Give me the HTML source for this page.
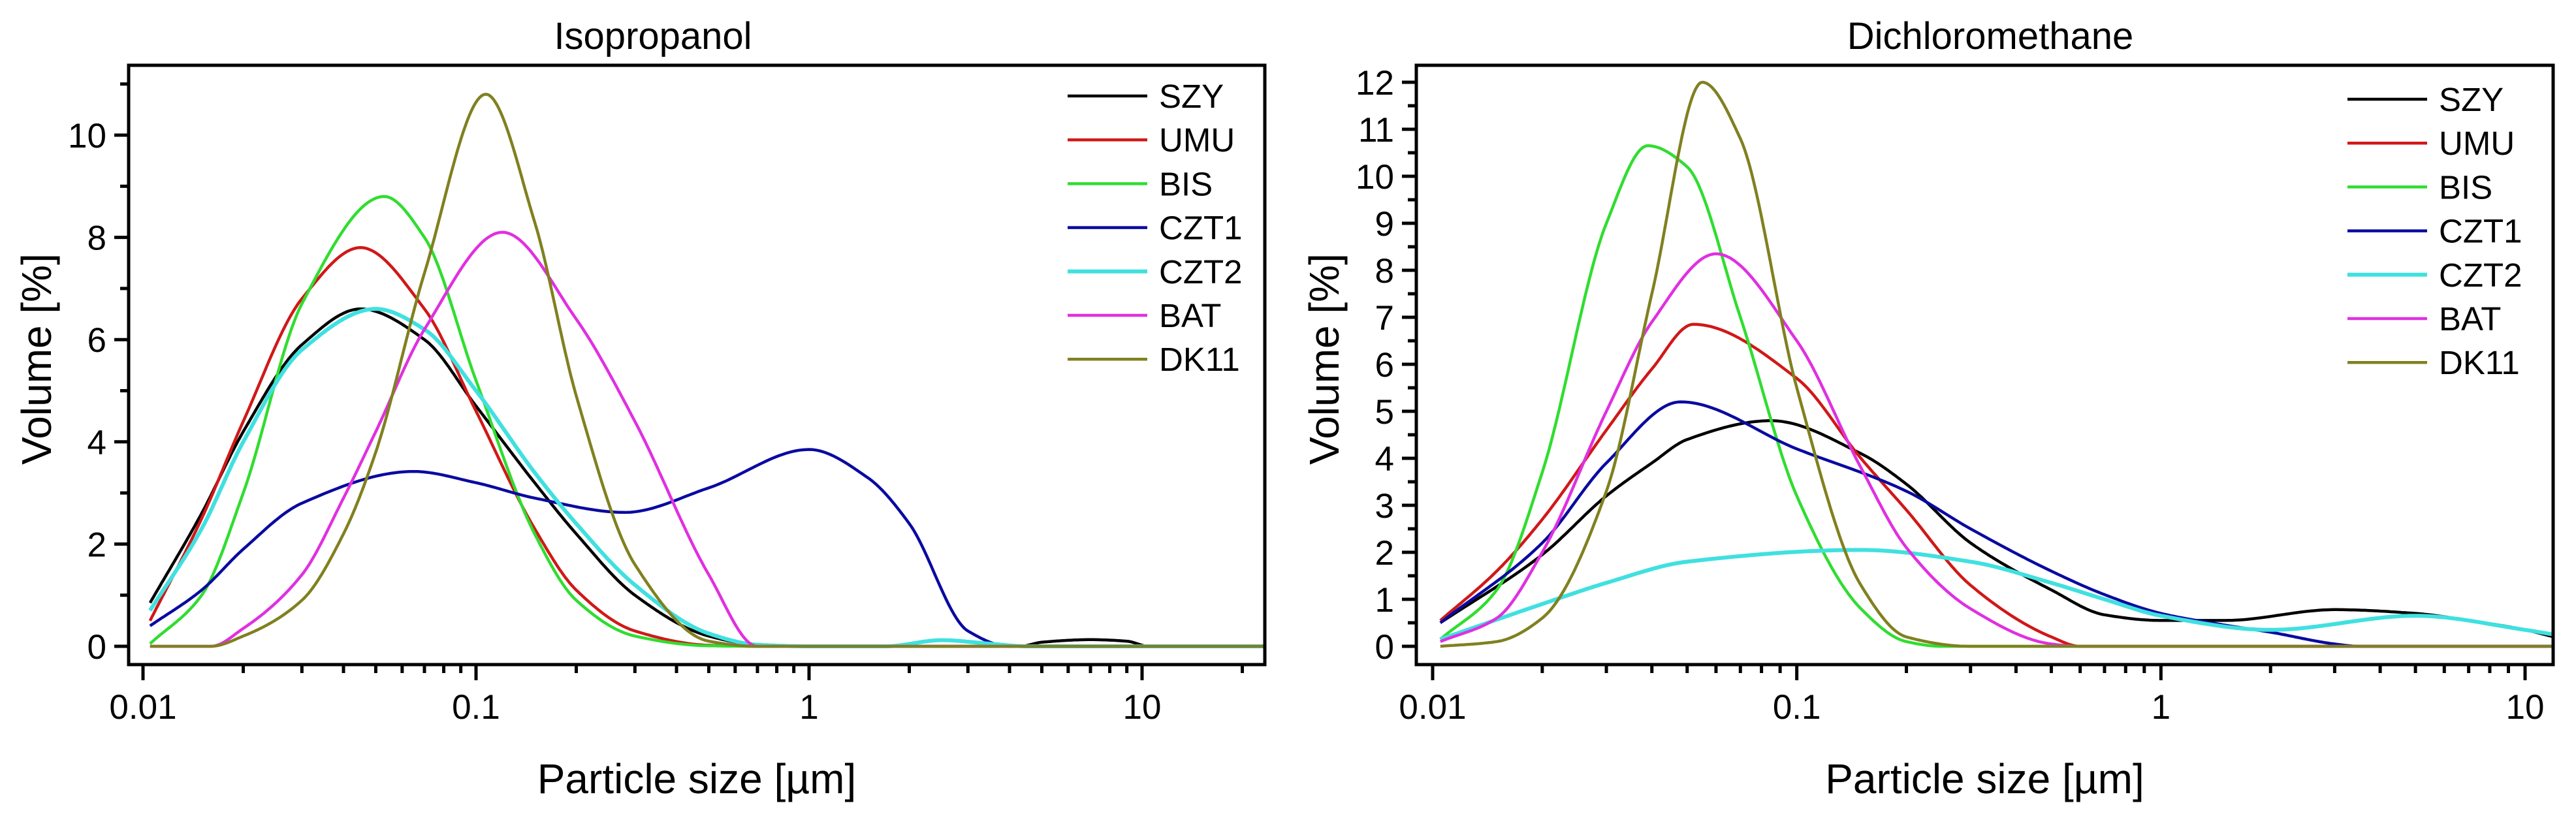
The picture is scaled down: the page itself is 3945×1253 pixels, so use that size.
<!DOCTYPE html>
<html><head><meta charset="utf-8">
<style>
html,body{margin:0;padding:0;background:#fff;}
svg{display:block;font-family:"Liberation Sans",Arial,sans-serif;}
</style></head>
<body>
<svg id="fig" width="3945" height="1253" viewBox="0 0 3945 1253" xmlns="http://www.w3.org/2000/svg">
<rect width="3945" height="1253" fill="#fff"/>
</svg>
<script>
// ---------- DATA ----------
const seriesNames = ["SZY","UMU","BIS","CZT1","CZT2","BAT","DK11"];
const seriesColors = ["#000000","#d01818","#30dd30","#0a0aa0","#40e0e0","#e030e0","#808020"];

// Isopropanol
const isoX_SZY = [0.0105,0.015,0.02,0.03,0.045,0.07,0.1,0.15,0.2,0.3,0.5,0.7,1,3,4.3,5,7,9,10.5,23.4];
const isoY_SZY = [0.85,2.6,4.2,5.9,6.6,6.0,4.7,3.2,2.2,1.0,0.2,0.03,0,0,0,0.08,0.13,0.1,0,0];
const isoX_UMU = [0.0105,0.015,0.02,0.03,0.045,0.07,0.1,0.15,0.2,0.3,0.5,0.7,23.4];
const isoY_UMU = [0.5,2.5,4.4,6.8,7.8,6.6,4.6,2.3,1.1,0.3,0.02,0,0];
const isoX_BIS = [0.0105,0.015,0.02,0.03,0.053,0.07,0.1,0.15,0.2,0.3,0.5,0.7,23.4];
const isoY_BIS = [0.05,1.0,3.0,6.7,8.8,8.0,5.2,2.2,0.9,0.2,0.01,0,0];
const isoX_CZT1 = [0.0105,0.015,0.02,0.03,0.065,0.1,0.15,0.28,0.5,1,1.5,2,3,4,23.4];
const isoY_CZT1 = [0.4,1.1,1.9,2.8,3.42,3.2,2.9,2.62,3.1,3.85,3.3,2.4,0.3,0,0];
const isoX_CZT2 = [0.0105,0.015,0.02,0.03,0.05,0.07,0.1,0.15,0.2,0.3,0.5,0.7,1,1.7,2.5,3.5,4.5,23.4];
const isoY_CZT2 = [0.7,2.3,4.0,5.8,6.6,6.2,5.0,3.4,2.4,1.2,0.25,0.03,0,0,0.12,0.05,0,0];
const isoX_BAT = [0.0105,0.016,0.02,0.03,0.04,0.05,0.07,0.12,0.2,0.3,0.5,0.7,23.4];
const isoY_BAT = [0,0,0.35,1.4,2.9,4.2,6.2,8.1,6.4,4.4,1.4,0,0];
const isoX_DK11 = [0.0105,0.016,0.02,0.03,0.04,0.05,0.07,0.107,0.15,0.2,0.3,0.5,0.7,23.4];
const isoY_DK11 = [0,0,0.2,0.9,2.2,3.8,7.3,10.8,8.3,4.9,1.6,0.1,0,0];

// Dichloromethane
const dcmX_SZY = [0.0105,0.02,0.03,0.04,0.05,0.085,0.15,0.2,0.3,0.5,0.7,1,1.5,3,5,7,10,12];
const dcmY_SZY = [0.5,1.95,3.2,3.9,4.4,4.8,4.1,3.45,2.2,1.2,0.67,0.55,0.55,0.78,0.7,0.55,0.35,0.2];
const dcmX_UMU = [0.0105,0.015,0.02,0.03,0.04,0.052,0.1,0.15,0.2,0.3,0.5,0.6,12];
const dcmY_UMU = [0.55,1.6,2.7,4.6,5.9,6.85,5.7,4.0,2.9,1.3,0.2,0,0];
const dcmX_BIS = [0.0105,0.015,0.02,0.03,0.039,0.05,0.07,0.1,0.15,0.2,0.25,12];
const dcmY_BIS = [0.15,1.2,3.7,9.0,10.65,10.2,7.0,3.2,0.8,0.1,0,0];
const dcmX_CZT1 = [0.0105,0.02,0.03,0.048,0.1,0.2,0.3,0.5,0.7,1,1.5,2,3,3.5,12];
const dcmY_CZT1 = [0.5,2.2,3.9,5.2,4.2,3.3,2.5,1.6,1.1,0.7,0.45,0.3,0.05,0,0];
const dcmX_CZT2 = [0.0105,0.02,0.03,0.05,0.15,0.3,0.5,0.7,1,2,5,10,12];
const dcmY_CZT2 = [0.15,0.9,1.35,1.8,2.05,1.8,1.35,1.0,0.65,0.35,0.65,0.35,0.25];
const dcmX_BAT = [0.0105,0.015,0.02,0.03,0.04,0.06,0.1,0.15,0.2,0.3,0.5,0.6,12];
const dcmY_BAT = [0.1,0.6,2.0,5.0,6.9,8.35,6.5,3.8,2.1,0.8,0.05,0,0];
const dcmX_DK11 = [0.0105,0.015,0.02,0.03,0.04,0.055,0.07,0.1,0.15,0.2,0.3,12];
const dcmY_DK11 = [0,0.1,0.6,3.3,7.5,12.0,10.8,5.5,1.3,0.2,0,0];

const isoYTicks = [0,2,4,6,8,10];
const dcmYTicks = [0,1,2,3,4,5,6,7,8,9,10,11,12];
const xTickLabels = ["0.01","0.1","1","10"];
const xTickValues = [0.01,0.1,1,10];

// ---------- DRAW ----------
const NS = "http://www.w3.org/2000/svg";
const svg = document.getElementById("fig");
function mk(tag, attrs, parent){
  const e = document.createElementNS(NS, tag);
  for (const k in attrs) e.setAttribute(k, attrs[k]);
  (parent||svg).appendChild(e);
  return e;
}

// monotone cubic (Fritsch-Carlson) tangents
function monoTangents(xs, ys){
  const n=xs.length, d=[], m=new Array(n).fill(0);
  for(let i=0;i<n-1;i++) d.push((ys[i+1]-ys[i])/(xs[i+1]-xs[i]));
  m[0]=d[0]; m[n-1]=d[n-2];
  for(let i=1;i<n-1;i++){
    if(d[i-1]*d[i]<=0) m[i]=0;
    else { const w1=2*(xs[i+1]-xs[i])+(xs[i]-xs[i-1]), w2=(xs[i+1]-xs[i])+2*(xs[i]-xs[i-1]);
      m[i]=(w1+w2)/(w1/d[i-1]+w2/d[i]); }
  }
  return m;
}

function drawPanel(cfg){
  const g = mk("g",{});
  
  
  const L=cfg.left, R=cfg.right, T=cfg.top, B=cfg.bottom;
  const lx0=Math.log10(cfg.xmin), lx1=Math.log10(cfg.xmax);
  const X = v => L + (Math.log10(v)-lx0)/(lx1-lx0)*(R-L);
  const Y = v => cfg.y0px - v*cfg.yScale;

  const cid = cfg.name+"-clip";
  const defs = mk("defs",{},g);
  const cp = mk("clipPath",{id:cid},defs);
  mk("rect",{x:L,y:T,width:R-L,height:B-T},cp);

  const cg = mk("g",{"clip-path":"url(#"+cid+")"},g);
  cfg.series.forEach((s,i)=>{
    const lxs=s[0].map(v=>Math.log10(v)), ys=s[1];
    const m=monoTangents(lxs, ys);
    let d="";
    for(let j=0;j<lxs.length-1;j++){
      const h=lxs[j+1]-lxs[j], n=30;
      for(let k=0;k<=n;k++){
        if(j>0&&k===0) continue;
        const t=k/n, t2=t*t, t3=t2*t;
        const y=(2*t3-3*t2+1)*ys[j]+(t3-2*t2+t)*h*m[j]+(-2*t3+3*t2)*ys[j+1]+(t3-t2)*h*m[j+1];
        const lx=lxs[j]+h*t;
        const px=L+(lx-lx0)/(lx1-lx0)*(R-L);
        d+=(d?"L":"M")+px.toFixed(1)+","+Y(Math.max(0,y)).toFixed(1);
      }
    }
    const path = mk("path",{d:d,fill:"none",stroke:seriesColors[i],"stroke-width":seriesNames[i]==="CZT2"?6:4.5,"stroke-linejoin":"round"},cg);
    
    
  });

  const fr = mk("rect",{x:L,y:T,width:R-L,height:B-T,fill:"none",stroke:"#000","stroke-width":5},g);
  
  

  for(let v=0; v<=cfg.ymaxTick+1e-9; v+=cfg.yMinor){
    const isMajor = cfg.yTicks.some(t=>Math.abs(t-v)<1e-9);
    const yy=Y(v);
    if(yy<T) continue;
    mk("line",{x1:L-(isMajor?22:13),x2:L,y1:yy,y2:yy,stroke:"#000","stroke-width":5},g);
  }
  cfg.yTicks.forEach(v=>{
    const t = mk("text",{x:L-34,y:Y(v)+19,"text-anchor":"end","font-size":53,fill:"#000"},g);
    t.textContent = String(v);
    
    
  });

  for(let e=-2;e<=1;e++){
    for(let mm=1;mm<=9;mm++){
      const v=mm*Math.pow(10,e);
      if(v>cfg.xmax) break;
      const xx=X(v);
      mk("line",{x1:xx,x2:xx,y1:B,y2:B+(mm===1?24:13),stroke:"#000","stroke-width":5},g);
    }
  }
  xTickValues.forEach((v,i)=>{
    const t = mk("text",{x:X(v),y:B+83,"text-anchor":"middle","font-size":53,fill:"#000"},g);
    t.textContent = xTickLabels[i];
    
    
  });

  const tt = mk("text",{x:cfg.titleX,y:75,"text-anchor":"middle","font-size":58,fill:"#000"},g);
  tt.textContent = cfg.title;
  
  
  const xl = mk("text",{x:(L+R)/2,y:1215,"text-anchor":"middle","font-size":64,fill:"#000"},g);
  xl.textContent = "Particle size [µm]";
  
  
  const yl = mk("text",{x:0,y:0,"text-anchor":"middle","font-size":64,fill:"#000",transform:"translate("+(cfg.ylabX)+",550) rotate(-90)"},g);
  yl.textContent = "Volume [%]";
  
  

  seriesNames.forEach((n,i)=>{
    const yy = cfg.legY + i*67.2;
    const lg = mk("g",{},g);
    
    
    mk("line",{x1:cfg.legX,x2:cfg.legX+122,y1:yy,y2:yy,stroke:seriesColors[i],"stroke-width":n==="CZT2"?6:4.5},lg);
    const t = mk("text",{x:cfg.legX+140,y:yy+18,"font-size":51,fill:"#000"},lg);
    t.textContent = n;
  });
}

drawPanel({
  name:"isopropanol-chart", title:"Isopropanol", titleX:1000,
  left:197, right:1937, top:100, bottom:1018,
  xmin:Math.pow(10,-2-22/510), xmax:Math.pow(10,1+188/510),
  y0px:990, yScale:78.3, yTicks:isoYTicks, yMinor:1, ymaxTick:11,
  ylabX:78, legX:1635, legY:147,
  series:[[isoX_SZY,isoY_SZY],[isoX_UMU,isoY_UMU],[isoX_BIS,isoY_BIS],[isoX_CZT1,isoY_CZT1],[isoX_CZT2,isoY_CZT2],[isoX_BAT,isoY_BAT],[isoX_DK11,isoY_DK11]]
});
drawPanel({
  name:"dichloromethane-chart", title:"Dichloromethane", titleX:3048,
  left:2169, right:3910, top:100, bottom:1018,
  xmin:Math.pow(10,-2-25/557.7), xmax:Math.pow(10,1+43/557.7),
  y0px:990, yScale:72, yTicks:dcmYTicks, yMinor:0.5, ymaxTick:12,
  ylabX:2050, legX:3595, legY:152,
  series:[[dcmX_SZY,dcmY_SZY],[dcmX_UMU,dcmY_UMU],[dcmX_BIS,dcmY_BIS],[dcmX_CZT1,dcmY_CZT1],[dcmX_CZT2,dcmY_CZT2],[dcmX_BAT,dcmY_BAT],[dcmX_DK11,dcmY_DK11]]
});
</script>
</body></html>
